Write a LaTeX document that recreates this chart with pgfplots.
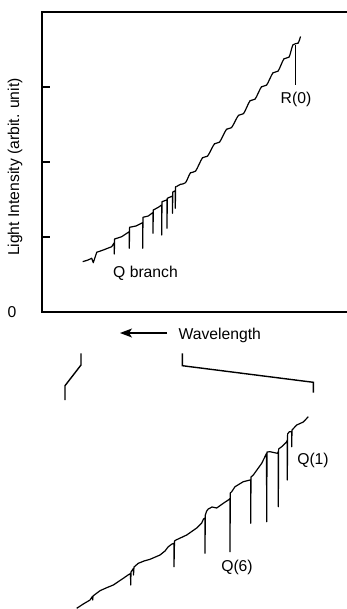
\documentclass[border=0pt]{standalone}
\usepackage{pgfplots}
\pgfplotsset{compat=1.18}
\usetikzlibrary{arrows.meta}
\usepackage{fontspec}
\setmainfont{Liberation Sans}
\begin{document}
\begin{tikzpicture}[font=\fontsize{15.7}{18.8}\selectfont]
\useasboundingbox (0pt,0pt) rectangle (346pt,609pt);
% ---------------- upper panel ----------------
\begin{axis}[
  at={(42pt,297pt)}, anchor=south west,
  scale only axis, width=310pt, height=300pt,
  xmin=42, xmax=352, ymin=0, ymax=300,
  xtick=\empty,
  ytick={0,75,150,225}, yticklabels={0,,,},
  ytick pos=left,
  tick align=inside,
  major tick length=8pt,
  axis line style={line width=1.6pt},
  every tick/.style={line width=1.4pt, black},
  yticklabel style={xshift=-22pt},
  /pgf/number format/assume math mode=true,
  every axis y label/.style={at={(rel axis cs:0,0.483)}, rotate=90, anchor=center, yshift=27pt},
  ylabel={Light Intensity (arbit. unit)},
  clip=false,
]
% Q branch region
\addplot[black, line width=1.2pt, line join=round] coordinates {
(82.7,50.3) (88,52) (91.7,53.7) (93.3,49.3) (96.7,59.7) (103.3,62) (111.7,65.3)
(114.3,69.3) (114.3,58) (114.6,73) (121.7,75.3) (128.3,79.7)
(129.3,80.3) (129.3,63.7) (129.6,84.7) (136,86) (140,88)
(142.7,89.3) (142.7,63.7) (143.0,94.7) (148.3,96)
(153,99.5) (153,78.7) (153.3,102) (158,104.5)
(161.7,107) (161.7,77) (162,110.3) (166.7,112)
(167,112.5) (167,83.7) (167.3,113.7)
(172.5,116) (172.5,98.7) (172.8,120)
(175.3,121.3) (175.3,103.7) (175.6,125.3) (176.7,125.5)
};
% R branch (wavy part)
\addplot[black, line width=1.2pt, smooth, tension=0.55] coordinates {
(176.7,125.5) (180.5,127.7) (185.5,129.3) (190.5,139.2) (195.5,140.8)
(202.5,154.2) (207.5,155.8) (214.5,168.2) (219.5,169.8) (226.5,182.7)
(231.5,184.3) (238.5,196.7) (243.5,198.3) (250,211.2) (255,212.8)
(261.5,225.2) (266.5,226.8) (273,239.2) (278,240.8) (284,253.2)
(289,254.8) (293,267.2) (298,268.8) (300.5,275.5)
};
% R(0) line
\addplot[black, line width=1.0pt] coordinates {(295.7,267) (295.7,227)};
\node at (axis cs:296,213) {R(0)};
\node at (axis cs:145.5,39) {Q branch};
\end{axis}
% ---------------- lower part (picture coordinates) ----------------
\begin{axis}[
  at={(0pt,0pt)}, anchor=south west,
  scale only axis, width=346pt, height=609pt,
  xmin=0, xmax=346, ymin=0, ymax=609, y dir=reverse,
  hide axis, clip=false,
]
% wavelength arrow
\addplot[black, line width=1.2pt, -{Stealth[length=12pt,width=9pt,inset=3pt]}] coordinates {(167,333) (120,333)};
\node[anchor=base west] at (axis cs:175,339) {Wavelength};
% brackets
\addplot[black, line width=1.4pt, line join=miter] coordinates {(81,353.3) (81,365) (65,385.7) (65,400)};
\addplot[black, line width=1.4pt, line join=miter] coordinates {(182.3,353.3) (182.3,365.7) (313.3,382.3) (313.3,392.7)};
% expanded Q-branch spectrum
\addplot[black, line width=1.2pt, line join=round] coordinates {
(76.7,608.3) (83.3,604) (90,600) (92.3,596.5) (92.7,600) (93,596) (100,590.7)
(106,588) (113.3,585) (123.3,578.3) (128,575) (130.5,573.5) (130.7,585) (131,572)
(133.3,568.5) (133.5,575) (134,567) (138.3,563.3) (144,561) (150,559.3) (160,555)
(165,551) (168.3,546.7) (172,544) (174,543.3) (174,566.7) (174.5,541) (176,540)
(186.7,535) (196.7,528) (201.7,523) (203.5,519) (205,518) (205,553.3) (205.3,515)
(206.7,511) (208.3,509) (212,507) (216.7,508) (223.3,503.3) (228.3,500)
(230,498.5) (230,551.7) (230.3,493) (231.7,491.7) (235,486.7) (243.3,481.7)
(250,480) (250.7,480) (250.7,523.3) (251,477) (253.3,475) (261.7,463.3)
(266.5,453.5) (266.7,521.7) (267,452) (270,451.7) (277.3,453.3)
(278.3,451.7) (278.3,506.7) (278.6,449) (281.7,446.7) (286.7,441.7)
(287.3,440) (287.3,480) (287.6,434) (289.3,431.7) (291.7,431.7) (291.7,446.7)
(292,430) (296.7,425) (303.3,422) (308.3,416.7)
};
\node at (axis cs:313,460) {Q(1)};
\node at (axis cs:237,567) {Q(6)};
\end{axis}
\end{tikzpicture}
\end{document}
